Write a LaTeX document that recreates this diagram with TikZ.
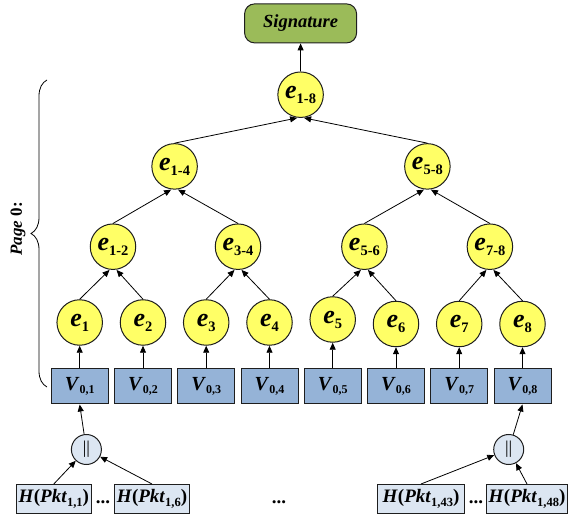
\documentclass[tikz,border=0pt]{standalone}
\usepackage{fontspec}
\setmainfont{Liberation Serif}
\usetikzlibrary{arrows.meta,decorations.pathreplacing}
\definecolor{sigG}{HTML}{9BBB59}
\definecolor{eY}{HTML}{FFFF66}
\definecolor{vB}{HTML}{95B3D7}
\definecolor{hB}{HTML}{DCE6F2}
\definecolor{bd}{HTML}{1E1E1E}
\newcommand\elab[1]{\textbf{\textit{e}}\raisebox{-5pt}{\fontsize{14.5}{15}\selectfont\bfseries #1}}
\newcommand\vlab[1]{\textbf{\textit{V}}\raisebox{-3.5pt}{\fontsize{12}{13}\selectfont\bfseries #1}}
\newcommand\hlab[1]{\textbf{\textit{H}(\textit{Pkt}}\raisebox{-3.5pt}{\fontsize{12.5}{13}\selectfont\bfseries #1}\textbf{)}}
\tikzset{
  ecirc/.style={circle, draw=bd, line width=1pt, fill=eY, minimum size=45.5pt, inner sep=0pt, font=\fontsize{26}{27}\selectfont},
  vbox/.style={rectangle, draw=bd, line width=1pt, fill=vB, minimum width=57pt, minimum height=35pt, inner sep=0pt, font=\fontsize{20}{21}\selectfont},
  hbox/.style={rectangle, draw=bd, line width=1pt, fill=hB, minimum height=29pt, inner xsep=2pt, inner ysep=0pt, font=\fontsize{19}{20}\selectfont},
  ccirc/.style={circle, draw=bd, line width=1pt, fill=hB, minimum size=30pt, inner sep=0pt, font=\fontsize{18}{19}\selectfont},
  sigbox/.style={rectangle, rounded corners=10pt, draw=bd, line width=1pt, fill=sigG, minimum width=112pt, minimum height=39pt, font=\fontsize{18.5}{19}\selectfont\bfseries\itshape},
  arr/.style={-{Triangle[length=7pt,width=6pt]}, line width=0.8pt, draw=black},
  dots/.style={inner sep=0pt, font=\fontsize{19}{20}\selectfont\bfseries}
}
\begin{document}
\begin{tikzpicture}[x=1pt,y=-1pt]
\useasboundingbox (0,0) rectangle (568,521);
% signature
\node[sigbox] (sig) at (300.6,23.4) {Signature};
% tree
\node[ecirc] (e18) at (300.6,94.7) {\elab{1-8}};
\node[ecirc] (e14) at (174.6,166.4) {\elab{1-4}};
\node[ecirc] (e58) at (427.4,166.4) {\elab{5-8}};
\node[ecirc] (e12) at (113,246.7) {\elab{1-2}};
\node[ecirc] (e34) at (238,246.7) {\elab{3-4}};
\node[ecirc] (e56) at (364.4,246.7) {\elab{5-6}};
\node[ecirc] (e78) at (489.9,246.7) {\elab{7-8}};
\node[ecirc] (e1) at (79.7,322.5) {\elab{1}};
\node[ecirc] (e2) at (143,322.5) {\elab{2}};
\node[ecirc] (e3) at (206.2,322.5) {\elab{3}};
\node[ecirc] (e4) at (269.5,322.5) {\elab{4}};
\node[ecirc] (e5) at (332.7,319.5) {\elab{5}};
\node[ecirc] (e6) at (396,324) {\elab{6}};
\node[ecirc] (e7) at (459.2,324) {\elab{7}};
\node[ecirc] (e8) at (522.5,324) {\elab{8}};
% V boxes
\node[vbox] (V1) at (79.7,386.5) {\vlab{0,1}};
\node[vbox] (V2) at (143,386.5) {\vlab{0,2}};
\node[vbox] (V3) at (206.2,386.5) {\vlab{0,3}};
\node[vbox] (V4) at (269.5,386.5) {\vlab{0,4}};
\node[vbox] (V5) at (332.7,386.5) {\vlab{0,5}};
\node[vbox] (V6) at (396,386.5) {\vlab{0,6}};
\node[vbox] (V7) at (459.2,386.5) {\vlab{0,7}};
\node[vbox] (V8) at (522.5,386.5) {\vlab{0,8}};
% concat circles
\node[ccirc] (c1) at (86.4,449.5) {||};
\node[ccirc] (c2) at (508.7,449.5) {||};
% H boxes
\node[hbox, minimum width=75pt] (H11) at (53.8,499) {\hlab{1,1}};
\node[hbox, minimum width=75pt] (H16) at (152,499) {\hlab{1,6}};
\node[hbox, minimum width=86.5pt] (H143) at (421,499) {\hlab{1,43}};
\node[hbox, minimum width=79.6pt] (H148) at (527,499) {\hlab{1,48}};
\node[dots] (d1) at (103,502) {...};
\node[dots] (d2) at (279,502) {...};
\node[dots] (d3) at (476,502) {...};
% arrows
\draw[arr] (e18.north) -- (sig.south);
\draw[arr] (e14.north) -- ([xshift=-3.5pt]e18.south);
\draw[arr] (e58.north) -- ([xshift=3.5pt]e18.south);
\draw[arr] (e12.north) -- ([xshift=-3.5pt]e14.south);
\draw[arr] (e34.north) -- ([xshift=3.5pt]e14.south);
\draw[arr] (e56.north) -- ([xshift=-3.5pt]e58.south);
\draw[arr] (e78.north) -- ([xshift=3.5pt]e58.south);
\draw[arr] (e1.north) -- ([xshift=-3.5pt]e12.south);
\draw[arr] (e2.north) -- ([xshift=3.5pt]e12.south);
\draw[arr] (e3.north) -- ([xshift=-3.5pt]e34.south);
\draw[arr] (e4.north) -- ([xshift=3.5pt]e34.south);
\draw[arr] (e5.north) -- ([xshift=-3.5pt]e56.south);
\draw[arr] (e6.north) -- ([xshift=3.5pt]e56.south);
\draw[arr] (e7.north) -- ([xshift=-3.5pt]e78.south);
\draw[arr] (e8.north) -- ([xshift=3.5pt]e78.south);
\foreach \i in {1,...,8} { \draw[arr] (V\i.north) -- (e\i.south); }
\draw[arr] (c1) -- (V1.south);
\draw[arr] (c2) -- (V8.south);
\draw[arr] (H11.north) -- (c1);
\draw[arr] (H16.north) -- (c1);
\draw[arr] (H143.north) -- (c2);
\draw[arr] (H148.north) -- (c2);
% brace and label
\coordinate (bb) at (47,387);
\coordinate (bt) at (47,80);
\draw[line width=0.8pt, decorate, decoration={brace, amplitude=16pt, aspect=0.5}] (bb) -- (bt);
\node[rotate=90, font=\fontsize{17}{18}\selectfont\bfseries, inner sep=0pt] (pg) at (18,229) {\textit{Page} 0:};
\end{tikzpicture}
\end{document}
